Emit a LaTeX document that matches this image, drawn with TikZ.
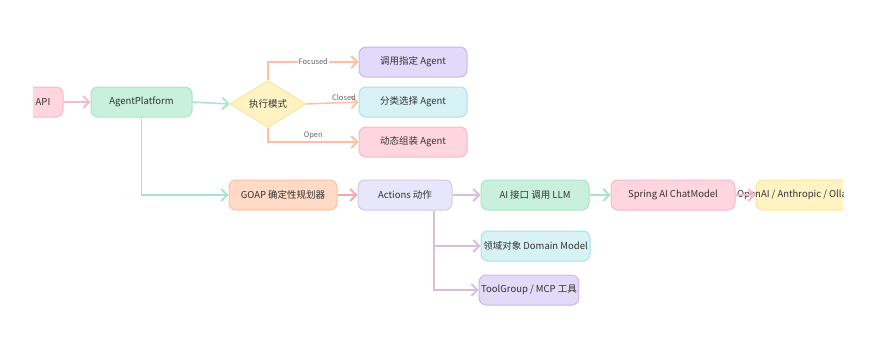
\documentclass[tikz,border=0pt]{standalone}
\usepackage{fontspec}
\setmainfont{Noto Sans CJK SC}
\usetikzlibrary{arrows.meta,shapes.geometric}
\definecolor{pinkF}{HTML}{FFD6E0}\definecolor{pinkD}{HTML}{F7B8C8}
\definecolor{greenF}{HTML}{C8F0DC}\definecolor{greenD}{HTML}{A8E4CA}
\definecolor{yellowF}{HTML}{FFF3C4}\definecolor{yellowD}{HTML}{FFE39A}
\definecolor{lavF}{HTML}{E3D9F8}\definecolor{lavD}{HTML}{C9B7EE}
\definecolor{cyanF}{HTML}{D6F2F4}\definecolor{cyanD}{HTML}{A8E4E6}
\definecolor{peachF}{HTML}{FFDAC6}\definecolor{peachD}{HTML}{FFC0A2}
\definecolor{lilacF}{HTML}{E8E6FA}\definecolor{lilacD}{HTML}{D3C8EA}
\definecolor{salmonL}{HTML}{F5AAAA}\definecolor{thistleL}{HTML}{D9BDD9}
\definecolor{txt}{HTML}{333333}

\begin{document}
\begin{tikzpicture}
    [x=1pt, y=-1pt,
    box/.style={draw, line width=1pt, rounded corners=7pt, minimum height=30pt, inner sep=2pt,
        text=txt, font=\fontsize{9.5}{11}\selectfont},
    flow/.style={line width=1.5pt, -{Straight Barb[length=6pt,width=12pt,line width=1.8pt]}},
    lbl/.style={font=\fontsize{7.5}{9}\selectfont, text=black!60, inner sep=1pt, fill=white}]
    \useasboundingbox (0,0) rectangle (875,356);
    \clip (33,0) rectangle (843,356);
        %% entry and modes
    \node[box, fill=pinkF, draw=pinkD, minimum width=40pt] (api) at (43,102) {API};
    \node[box, fill=greenF, draw=greenD, minimum width=101pt] (ap) at (141.5,102) {AgentPlatform};
    \node[diamond, draw=yellowD, line width=1pt, fill=yellowF, text=txt, inner sep=0pt,
        minimum width=76pt, minimum height=36pt, font=\fontsize{9.5}{11}\selectfont] (mode) at (268,104) {执行模式};
    \node[box, fill=lavF, draw=lavD, minimum width=108pt] (ag1) at (413,62) {调用指定 Agent};
    \node[box, fill=cyanF, draw=cyanD, minimum width=108pt] (ag2) at (413,102) {分类选择 Agent};
    \node[box, fill=pinkF, draw=pinkD, minimum width=108pt] (ag3) at (413,142) {动态组装 Agent};

        %% planning chain
    \node[box, fill=peachF, draw=peachD, minimum width=108pt] (goap) at (283,195) {GOAP 确定性规划器};
    \node[box, fill=lilacF, draw=lilacD, minimum width=94pt] (act) at (405,195) {Actions 动作};
    \node[box, fill=greenF, draw=greenD, minimum width=108pt] (ai) at (535,195) {AI 接口 调用 LLM};
    \node[box, fill=pinkF, draw=pinkD, minimum width=124pt] (spring) at (673,195) {Spring AI ChatModel};
    \node[box, fill=yellowF, draw=yellowD, minimum width=112pt] (llm) at (812,195) {\makebox[0pt][l]{\hspace*{-75pt}OpenAI / Anthropic / Ollama}};
    \node[box, fill=cyanF, draw=cyanD, minimum width=109pt] (dom) at (535.5,246) {领域对象 Domain Model};
    \node[box, fill=lavF, draw=lavD, minimum width=96pt] (tool) at (529,290) {ToolGroup / MCP 工具};

    \draw[flow, pinkD] (api) -- (ap);
    \draw[flow, greenD] (ap.east) -- (mode.west);
    \draw[flow, greenD] (ap.south) |- (goap.west);
    \draw[flow, peachD] (mode.north) |- node[lbl, pos=0.75] {Focused} (ag1.west);
    \draw[flow, peachD] (mode.east) -- node[lbl, pos=0.72, above, fill=none] {Closed} (ag2.west);
    \draw[flow, peachD] (mode.south) |- node[lbl, pos=0.75, above=1pt, fill=none] {Open} (ag3.west);
    \draw[flow, salmonL] (goap) -- (act);
    \draw[flow, thistleL] (act) -- (ai);
    \draw[flow, thistleL] ([xshift=29pt]act.south) |- (dom.west);
    \draw[flow, thistleL] ([xshift=29pt]act.south) |- (tool.west);
    \draw[flow, greenD] (ai) -- (spring);
    \draw[flow, pinkD] (spring) -- (llm);
\end{tikzpicture}
\end{document}
